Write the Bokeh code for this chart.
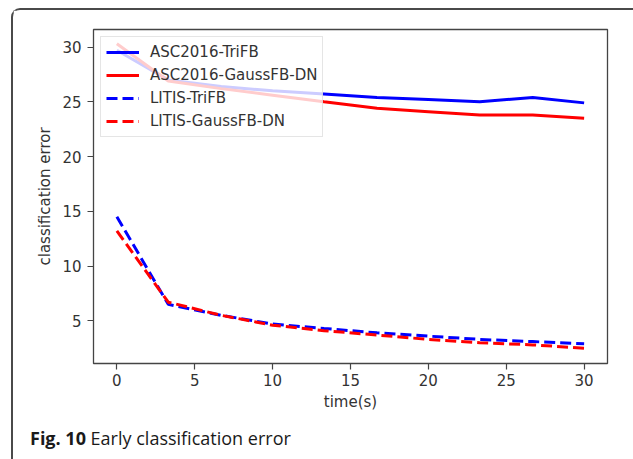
from bokeh.plotting import figure
from bokeh.models import Range1d, FixedTicker, Legend, LegendItem, Div
from bokeh.layouts import column
from bokeh.embed import file_html
from bokeh.resources import INLINE

# ---- data ----
time_s = [0, 3.3, 6.7, 10, 13.3, 16.7, 20, 23.3, 26.7, 30]
asc_trifb = [29.7, 27.0, 26.4, 26.0, 25.7, 25.4, 25.2, 25.0, 25.4, 24.9]
asc_gaussfb_dn = [30.3, 26.9, 26.2, 25.6, 25.0, 24.4, 24.1, 23.8, 23.8, 23.5]
litis_trifb = [14.5, 6.5, 5.5, 4.7, 4.3, 3.9, 3.6, 3.3, 3.1, 2.9]
litis_gaussfb_dn = [13.2, 6.7, 5.5, 4.6, 4.1, 3.7, 3.3, 3.0, 2.8, 2.5]
series_names = ["ASC2016-TriFB", "ASC2016-GaussFB-DN", "LITIS-TriFB", "LITIS-GaussFB-DN"]
x_ticks = [0, 5, 10, 15, 20, 25, 30]
y_ticks = [5, 10, 15, 20, 25, 30]
x_label = "time(s)"
y_label = "classification error"
caption_bold = "Fig. 10"
caption_text = "Early classification error"

FONT = "DejaVu Sans"
TXT = "#333333"
SPINE = "#444444"

p = figure(width=620, height=410, output_backend="svg", toolbar_location=None,
           x_range=Range1d(-1.5, 31.5), y_range=Range1d(1.1, 31.6),
           min_border_left=80, min_border_right=26, min_border_top=19, min_border_bottom=57,
           background_fill_color="white", border_fill_color="white")

p.grid.visible = False
p.outline_line_color = SPINE
p.outline_line_width = 1.3

for ax in (p.xaxis[0], p.yaxis[0]):
    ax.axis_line_color = None
    ax.major_tick_line_color = SPINE
    ax.major_tick_line_width = 1.2
    ax.major_tick_out = 6
    ax.major_tick_in = 0
    ax.minor_tick_line_color = None
    ax.major_label_text_font = FONT
    ax.major_label_text_font_size = "15px"
    ax.major_label_text_color = TXT
    ax.axis_label_text_font = FONT
    ax.axis_label_text_font_size = "15px"
    ax.axis_label_text_color = TXT
    ax.axis_label_text_font_style = "normal"

p.xaxis.ticker = FixedTicker(ticks=x_ticks)
p.yaxis.ticker = FixedTicker(ticks=y_ticks)
p.xaxis.axis_label = x_label
p.yaxis.axis_label = y_label
p.xaxis.major_label_standoff = 4
p.yaxis.major_label_standoff = 6
p.xaxis.axis_label_standoff = 4
p.yaxis.axis_label_standoff = 5

r1 = p.line(time_s, asc_trifb, line_color="#0000ff", line_width=3)
r2 = p.line(time_s, asc_gaussfb_dn, line_color="#ff0000", line_width=3)
r3 = p.line(time_s, litis_trifb, line_color="#0000ff", line_width=3, line_dash="11 5")
r4 = p.line(time_s, litis_gaussfb_dn, line_color="#ff0000", line_width=3, line_dash="11 5")

legend = Legend(items=[LegendItem(label=n, renderers=[r]) for n, r in zip(series_names, [r1, r2, r3, r4])],
                location="top_left", margin=7, padding=5, spacing=3,
                glyph_width=33, glyph_height=20, label_height=20, label_standoff=11,
                label_text_font=FONT, label_text_font_size="15px", label_text_color=TXT,
                border_line_color="#cccccc", border_line_width=1,
                background_fill_color="white", background_fill_alpha=0.8)
p.add_layout(legend)

caption = Div(
    text=('<div style="font-family:\'Open Sans\';font-size:18px;line-height:24px;'
          'color:#1a1a1a;padding:1px 0 0 12px;white-space:nowrap;">'
          f'<b>{caption_bold}</b> {caption_text}</div>'),
    width=600, height=30)

root = column(p, caption, spacing=0,
              styles={"margin-left": "11px", "margin-top": "8px",
                      "border-left": "2px solid #4a4a4a", "border-top": "2px solid #4a4a4a",
                      "border-right": "none", "border-bottom": "none",
                      "border-top-left-radius": "9px"})

open("out.html", "w").write(file_html(root, INLINE))
